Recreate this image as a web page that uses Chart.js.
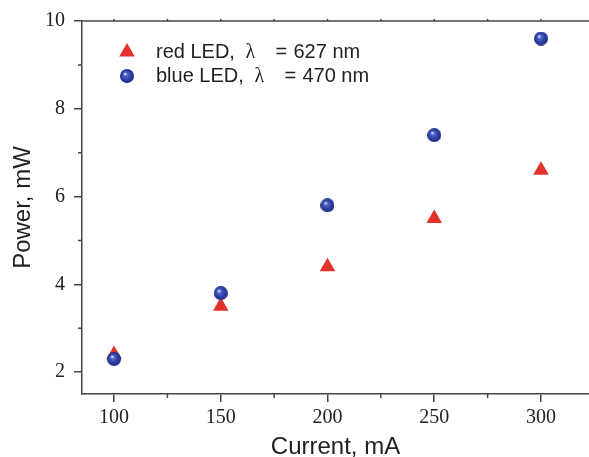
<!DOCTYPE html>
<html>
<head>
<meta charset="utf-8">
<script src="https://cdn.jsdelivr.net/npm/chart.js@4.4.1/dist/chart.umd.min.js"></script>
<style>
  html, body { margin: 0; padding: 0; background: #fff; overflow: hidden; }
  canvas { display: block; }
</style>
</head>
<body>
<canvas id="c" width="589" height="457"></canvas>
<script>
// data
const currents = [100, 150, 200, 250, 300];
const redPower = [2.4, 3.5, 4.4, 5.5, 6.6];
const bluePower = [2.3, 3.8, 5.8, 7.4, 9.6];

const xMajor = [100, 150, 200, 250, 300];
const xMinor = [125, 175, 225, 275];
const yMajor = [2, 4, 6, 8, 10];
const yMinor = [3, 5, 7, 9];

const seriesNames = ['red LED, ', 'blue LED, '];
const seriesLambda = ['627 nm', '470 nm'];

const AXIS = '#444';
const RED = '#e2302a';
const SANS = '"Liberation Sans", Arial, sans-serif';
const SERIF = '"Liberation Serif", "Times New Roman", serif';

// shaded ball marker, like the Origin "sphere" symbol
function sphere(d) {
  const c = document.createElement('canvas');
  c.width = c.height = d;
  const g = c.getContext('2d');
  const r = d / 2;
  const grad = g.createRadialGradient(r * 0.72, r * 0.68, 0.4, r, r, r);
  grad.addColorStop(0, '#f0f2ff');
  grad.addColorStop(0.2, '#5569cc');
  grad.addColorStop(0.6, '#2e41a8');
  grad.addColorStop(1, '#1d2b82');
  g.fillStyle = grad;
  g.beginPath(); g.arc(r, r, r, 0, Math.PI * 2); g.fill();
  return c;
}
const ball = sphere(14);

const pts = (ys) => currents.map((x, i) => ({ x, y: ys[i] }));

// minor ticks, top frame line and the in-plot legend
const decor = {
  id: 'decor',
  afterDraw(chart) {
    const { ctx, chartArea: a, scales: { x, y } } = chart;
    ctx.save();
    ctx.strokeStyle = AXIS;
    ctx.lineWidth = 1.5;
    ctx.beginPath();
    ctx.moveTo(a.left, a.top); ctx.lineTo(a.right, a.top);
    xMinor.forEach(v => {
      const p = x.getPixelForValue(v);
      ctx.moveTo(p, a.bottom); ctx.lineTo(p, a.bottom + 4);
    });
    yMinor.forEach(v => {
      const p = y.getPixelForValue(v);
      ctx.moveTo(a.left, p); ctx.lineTo(a.left - 4, p);
    });
    xMajor.concat(xMinor).forEach(v => {
      const p = x.getPixelForValue(v);
      ctx.moveTo(p, a.top); ctx.lineTo(p, a.top - 2);
    });
    ctx.stroke();

    // legend
    const rows = [52, 76];
    chart.data.datasets.forEach((ds, i) => {
      ctx.fillStyle = ds.backgroundColor;
      Chart.helpers.drawPoint(ctx, {
        pointStyle: ds.pointStyle, radius: ds.pointRadius, rotation: 0, borderWidth: 0
      }, 127, rows[i]);
      ctx.fillStyle = '#222';
      ctx.textBaseline = 'alphabetic';
      const base = rows[i] + 5.5;
      ctx.font = '20px ' + SANS;
      ctx.fillText(seriesNames[i], 156, base);
      const lx = 156 + ctx.measureText(seriesNames[i]).width + 5;
      ctx.font = '20px ' + SERIF;
      ctx.fillText('λ', lx, base);
      ctx.font = '20px ' + SANS;
      ctx.fillText('=', lx + 30, base);
      ctx.fillText(seriesLambda[i], lx + 48, base);
    });
    ctx.restore();
  }
};

new Chart(document.getElementById('c'), {
  type: 'scatter',
  data: {
    datasets: [
      {
        label: 'red LED, λ = 627 nm',
        data: pts(redPower),
        pointStyle: 'triangle',
        pointRadius: 9,
        backgroundColor: RED,
        borderWidth: 0,
        order: 1,
      },
      {
        label: 'blue LED, λ = 470 nm',
        data: pts(bluePower),
        pointStyle: ball,
        pointRadius: 7,
        backgroundColor: '#2e41a8',
        borderWidth: 0,
        order: 0,
      },
    ],
  },
  options: {
    responsive: false,
    animation: false,
    layout: { autoPadding: false, padding: { top: 21, left: 0, right: 0, bottom: 0 } },
    plugins: { legend: { display: false }, tooltip: { enabled: false } },
    scales: {
      x: {
        type: 'linear',
        min: 85, max: 322.5,
        afterBuildTicks: s => { s.ticks = xMajor.map(value => ({ value })); },
        afterFit: s => { s.height = 63; s.paddingLeft = 0; s.paddingRight = 0; },
        grid: { drawOnChartArea: false, tickLength: 8, color: AXIS, lineWidth: 1.5 },
        border: { color: AXIS, width: 1.5 },
        ticks: { color: '#222', padding: 4, maxRotation: 0, font: { family: SERIF, size: 20 } },
        title: {
          display: true, text: 'Current, mA', color: '#222',
          font: { family: SANS, size: 24, lineHeight: 1 },
          padding: { top: 0, bottom: -2 },
        },
      },
      y: {
        type: 'linear',
        min: 1.5, max: 10,
        afterBuildTicks: s => { s.ticks = yMajor.map(value => ({ value })); },
        afterFit: s => { s.width = 82; },
        grid: { drawOnChartArea: false, tickLength: 8, color: AXIS, lineWidth: 1.5 },
        border: { color: AXIS, width: 1.5 },
        ticks: { color: '#222', padding: 9, font: { family: SERIF, size: 20 } },
        title: {
          display: true, text: 'Power, mW', color: '#222',
          font: { family: SANS, size: 24, lineHeight: 1 },
          padding: { top: 11, bottom: 0 },
        },
      },
    },
  },
  plugins: [decor],
});
</script>
</body>
</html>
